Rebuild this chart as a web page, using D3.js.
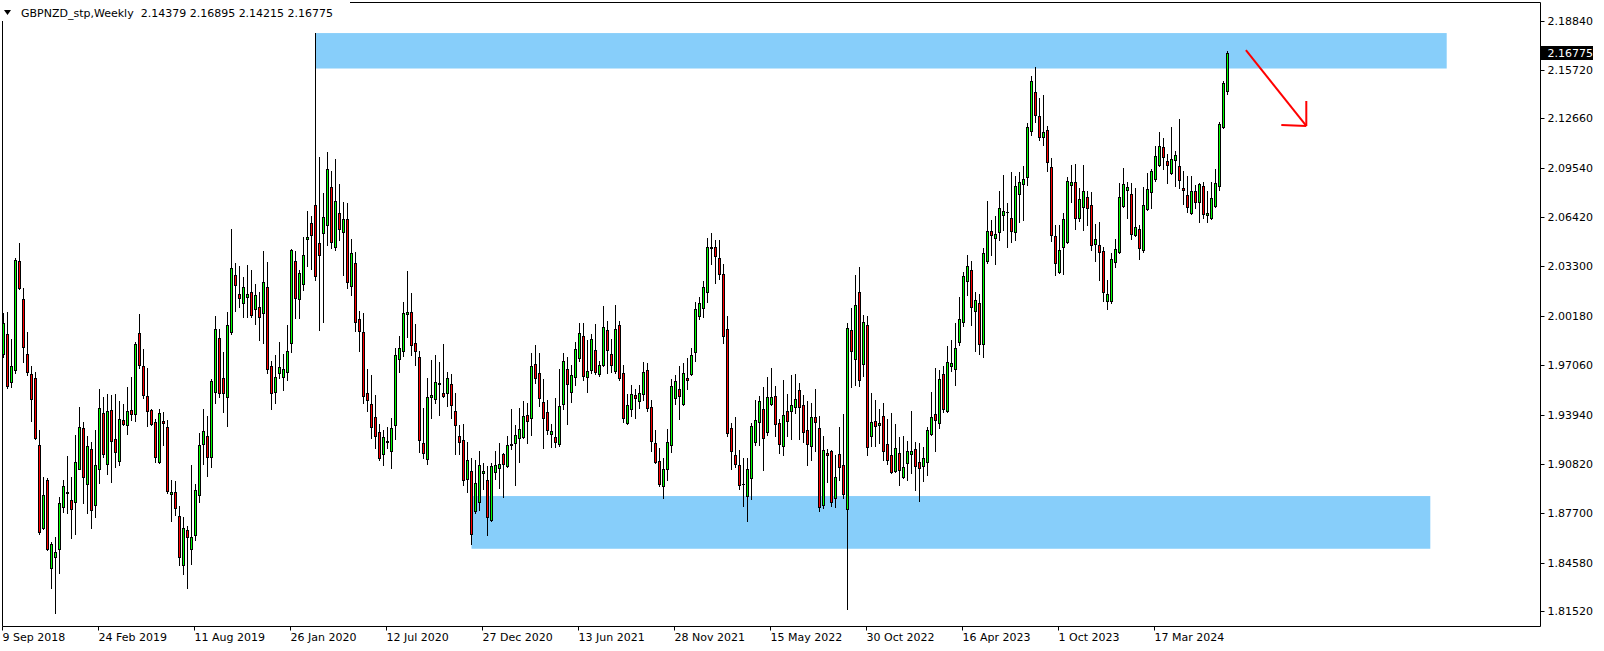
<!DOCTYPE html>
<html><head><meta charset="utf-8">
<script src="https://cdn.jsdelivr.net/npm/d3@7"></script>
<style>
body{margin:0;background:#fff;overflow:hidden;}
svg{display:block;}
text{font-family:"DejaVu Sans",sans-serif;font-size:11px;fill:#000;}
</style>
</head><body>
<svg id="chart" width="1604" height="651"></svg>
<script>
const symbolTitle = "GBPNZD_stp,Weekly";
const firstWeek = "2018-09-09";

const opens = [
1.9777,1.9903,1.9600,1.9676,2.0365,2.0124,1.9777,1.9650,1.9625,1.9202,
1.8677,1.8980,1.8424,1.8494,1.8544,1.8810,1.8898,1.8854,1.8841,1.9050,
1.9309,1.8955,1.9176,1.8822,1.9050,1.9404,1.9082,1.9423,1.9240,1.9101,
1.9360,1.9328,1.9423,1.9398,1.9909,1.9701,1.9511,1.9423,1.9347,1.9094,
1.9353,1.9315,1.8892,1.8905,1.8753,1.8443,1.8664,1.8544,1.8633,1.8886,
1.9208,1.9259,1.9126,1.9537,1.9878,1.9625,1.9505,1.9916,2.0276,2.0156,
2.0099,2.0137,2.0169,2.0061,2.0074,2.0036,2.0200,1.9701,1.9537,1.9657,
1.9631,1.9663,1.9846,2.0365,2.0124,2.0219,2.0504,2.0605,2.0718,2.0478,
2.0541,2.0592,2.0832,2.0453,2.0668,2.0548,2.0630,2.0207,2.0352,1.9998,
1.9916,1.9530,1.9461,1.9379,1.9284,1.9145,1.9221,1.9164,1.9328,1.9745,
1.9796,2.0030,2.0042,1.9846,1.9758,1.9214,1.9113,1.9505,1.9492,1.9587,
1.9530,1.9530,1.9587,1.9417,1.9259,1.9233,1.8987,1.9037,1.8785,1.8841,
1.9025,1.8980,1.8728,1.9031,1.9056,1.9145,1.9069,1.9202,1.9214,1.9246,
1.9252,1.9391,1.9372,1.9714,1.9657,1.9473,1.9410,1.9271,1.9252,1.9208,
1.9461,1.9682,1.9537,1.9631,1.9751,1.9891,1.9631,1.9676,1.9802,1.9650,
1.9707,1.9928,1.9777,1.9669,1.9960,1.9657,1.9341,1.9429,1.9518,1.9480,
1.9524,1.9676,1.9442,1.9214,1.9101,1.8943,1.9050,1.9202,1.9499,1.9556,
1.9461,1.9625,1.9650,1.9789,2.0017,2.0067,2.0169,2.0447,2.0453,2.0383,
2.0282,1.9935,1.9309,1.9138,1.9075,1.8958,1.8879,1.8993,1.9221,1.9347,
1.9429,1.9284,1.9461,1.9511,1.9341,1.9195,1.9417,1.9417,1.9442,1.9549,
1.9454,1.9296,1.9195,1.9379,1.9309,1.8822,1.9151,1.9164,1.8867,1.9145,
1.9075,1.8797,1.9928,1.9745,2.0169,1.9714,1.9960,1.9259,1.9353,1.9328,
1.9385,1.9208,1.9138,1.9037,1.9151,1.8999,1.9088,1.9145,1.9176,1.9094,
1.9069,1.9094,1.9271,1.9398,1.9341,1.9650,1.9417,1.9701,1.9682,1.9853,
1.9979,2.0238,2.0308,2.0049,2.0099,1.9840,2.0365,2.0554,2.0510,2.0548,
2.0655,2.0677,2.0636,2.0548,2.0788,2.0851,2.0895,2.1186,2.1433,2.1281,
2.1148,2.1192,2.0959,2.0523,2.0295,2.0453,2.0485,2.0845,2.0864,2.0636,
2.0706,2.0769,2.0718,2.0472,2.0466,2.0428,2.0112,2.0112,2.0358,2.0421,
2.0712,2.0813,2.0788,2.0529,2.0567,2.0434,2.0693,2.0801,2.0883,2.0971,
2.1085,2.0997,2.0921,2.1003,2.0965,2.0826,2.0782,2.0668,2.0807,2.0737,
2.0839,2.0655,2.0636,2.0712,2.0839,2.1211,2.14379
];

const highs = [
2.0036,2.0042,1.9872,2.0383,2.0478,2.0194,1.9916,1.9701,1.9663,1.9296,
1.8999,1.8993,1.8589,1.8620,1.8873,1.8980,1.9132,1.8999,1.9265,1.9442,
1.9347,1.9259,1.9221,1.9296,1.9556,1.9505,1.9524,1.9518,1.9524,1.9480,
1.9461,1.9568,1.9631,1.9853,2.0030,1.9808,1.9688,1.9429,1.9366,1.9429,
1.9410,1.9360,1.8980,1.8974,1.8816,1.8747,1.8690,1.9075,1.8955,1.9277,
1.9429,1.9385,1.9619,2.0017,1.9935,1.9789,2.0042,2.0567,2.0352,2.0333,
2.0263,2.0339,2.0308,2.0219,2.0169,2.0428,2.0358,1.9733,1.9770,1.9853,
1.9777,1.9960,2.0440,2.0428,2.0308,2.0516,2.0681,2.0649,2.1805,2.1022,
2.0794,2.1053,2.0933,2.1009,2.0851,2.0737,2.0731,2.0504,2.0421,2.0049,
2.0036,1.9682,1.9644,1.9518,1.9334,1.9296,1.9315,1.9372,1.9815,1.9891,
2.0105,2.0301,2.0162,1.9966,1.9796,1.9435,1.9625,1.9739,1.9770,1.9726,
1.9840,1.9663,1.9650,1.9530,1.9328,1.9334,1.9221,1.9120,1.9107,1.9164,
1.9088,1.9069,1.9088,1.9164,1.9214,1.9151,1.9259,1.9429,1.9328,1.9435,
1.9480,1.9467,1.9783,1.9834,1.9783,1.9619,1.9486,1.9334,1.9499,1.9682,
1.9783,1.9758,1.9707,1.9853,1.9973,1.9973,1.9865,1.9903,1.9966,1.9733,
2.0080,1.9985,1.9872,2.0086,1.9985,1.9707,1.9524,1.9581,1.9556,1.9581,
1.9726,1.9720,1.9486,1.9296,1.9183,1.9120,1.9303,1.9619,1.9644,1.9701,
1.9720,1.9751,1.9815,2.0105,2.0137,2.0238,2.0510,2.0541,2.0497,2.0497,
2.0346,2.0017,1.9341,1.9379,1.9170,1.9120,1.9120,1.9341,1.9486,1.9511,
1.9568,1.9631,1.9688,1.9575,1.9366,1.9612,1.9524,1.9644,1.9650,1.9593,
1.9518,1.9480,1.9467,1.9556,1.9385,1.9259,1.9176,1.9170,1.9138,1.9315,
1.9398,1.9973,2.0067,2.0276,2.0327,2.0023,2.0017,1.9530,1.9486,1.9429,
1.9467,1.9366,1.9404,1.9334,1.9252,1.9259,1.9227,1.9417,1.9221,1.9214,
1.9189,1.9315,1.9537,1.9688,1.9676,1.9701,1.9827,1.9865,1.9973,2.0137,
2.0295,2.0402,2.0365,2.0169,2.0156,2.0447,2.0744,2.0624,2.0649,2.0807,
2.0908,2.0731,2.0927,2.0902,2.0927,2.0965,2.1237,2.1534,2.1591,2.1395,
2.1414,2.1218,2.1015,2.0592,2.0592,2.0668,2.0895,2.0971,2.0978,2.0826,
2.0971,2.0807,2.0801,2.0598,2.0611,2.0453,2.0244,2.0415,2.0504,2.0857,
2.0952,2.0864,2.0857,2.0826,2.0592,2.0832,2.0921,2.0946,2.1091,2.1180,
2.1142,2.1041,2.1211,2.1060,2.1262,2.0933,2.0902,2.0902,2.0845,2.0857,
2.0864,2.0807,2.0864,2.0946,2.1243,2.1502,2.16895
];

const lows = [
1.9758,1.9562,1.9568,1.9657,2.0190,1.9726,1.9644,1.9353,1.9240,1.8639,
1.8673,1.8538,1.8298,1.8140,1.8393,1.8778,1.8772,1.8614,1.8639,1.9048,
1.8835,1.8772,1.8677,1.8747,1.8961,1.9126,1.9018,1.8968,1.9063,1.9075,
1.9330,1.9271,1.9360,1.9353,1.9688,1.9499,1.9322,1.9328,1.9094,1.9088,
1.9202,1.8898,1.8721,1.8759,1.8443,1.8386,1.8298,1.8449,1.8601,1.8841,
1.9082,1.9006,1.9063,1.9467,1.9505,1.9410,1.9322,1.9903,2.0049,2.0074,
2.0011,2.0011,2.0011,1.9966,1.9865,1.9846,1.9657,1.9429,1.9467,1.9625,
1.9549,1.9612,1.9789,2.0004,2.0004,2.0181,2.0333,2.0314,2.0244,1.9928,
1.9979,2.0466,2.0447,2.0434,2.0497,2.0276,2.0194,2.0150,1.9922,1.9796,
1.9467,1.9417,1.9246,1.9183,1.9107,1.9075,1.9183,1.9056,1.9240,1.9663,
1.9764,1.9884,1.9770,1.9707,1.9157,1.9120,1.9082,1.9372,1.9467,1.9391,
1.9505,1.9448,1.9372,1.9145,1.9145,1.8949,1.8905,1.8576,1.8772,1.8791,
1.8924,1.8633,1.8721,1.8987,1.8930,1.8873,1.9063,1.9176,1.8949,1.9094,
1.9246,1.9214,1.9265,1.9593,1.9448,1.9183,1.9271,1.9189,1.9189,1.9195,
1.9429,1.9334,1.9473,1.9581,1.9733,1.9612,1.9537,1.9657,1.9650,1.9638,
1.9701,1.9657,1.9663,1.9657,1.9612,1.9347,1.9334,1.9385,1.9372,1.9435,
1.9486,1.9417,1.9164,1.9088,1.8943,1.8867,1.8980,1.9157,1.9461,1.9366,
1.9455,1.9556,1.9644,1.9733,1.9998,2.0011,2.0105,2.0346,2.0225,2.0251,
1.9846,1.9259,1.9050,1.9063,1.8924,1.8816,1.8721,1.8860,1.9202,1.9202,
1.9044,1.9265,1.9455,1.9259,1.9151,1.9138,1.9259,1.9240,1.9404,1.9240,
1.9221,1.9075,1.9107,1.9164,1.8785,1.8803,1.8968,1.8816,1.8810,1.8980,
1.8867,1.8165,1.9568,1.9581,1.9575,1.9638,1.9138,1.9195,1.9195,1.9214,
1.9107,1.9082,1.9025,1.9031,1.8949,1.8993,1.8980,1.9025,1.8917,1.8848,
1.8974,1.9012,1.9265,1.9164,1.9309,1.9410,1.9410,1.9669,1.9581,1.9834,
1.9954,2.0150,1.9960,1.9796,1.9777,1.9758,2.0352,2.0402,2.0346,2.0497,
2.0560,2.0453,2.0485,2.0497,2.0611,2.0624,2.0845,2.1161,2.1243,2.1129,
2.1098,2.0933,2.0491,2.0276,2.0289,2.0282,2.0478,2.0737,2.0567,2.0617,
2.0560,2.0592,2.0434,2.0365,2.0244,2.0112,2.0061,2.0099,2.0327,2.0415,
2.0706,2.0636,2.0504,2.0523,2.0377,2.0421,2.0687,2.0699,2.0870,2.0965,
2.0946,2.0857,2.0914,2.0839,2.0826,2.0725,2.0674,2.0662,2.0699,2.0611,
2.0636,2.0611,2.0630,2.0706,2.0813,2.1205,2.14215
];

const closes = [
1.9973,1.9575,1.9701,2.0371,2.0194,1.9821,1.9663,1.9492,1.9246,1.8652,
1.8886,1.8544,1.8576,1.8525,1.8835,1.8943,1.8905,1.8797,1.9094,1.9315,
1.8999,1.9195,1.8791,1.9075,1.9435,1.9145,1.9417,1.9227,1.9157,1.9366,
1.9334,1.9417,1.9398,1.9840,1.9707,1.9518,1.9417,1.9334,1.9126,1.9404,
1.9341,1.8911,1.8905,1.8803,1.8494,1.8677,1.8620,1.8620,1.8917,1.9202,
1.9290,1.9126,1.9606,1.9935,1.9530,1.9530,1.9960,2.0320,2.0213,2.0131,
2.0200,2.0156,2.0023,2.0150,2.0011,2.0232,1.9682,1.9530,1.9631,1.9695,
1.9682,1.9796,2.0434,2.0131,2.0289,2.0402,2.0516,2.0529,2.0270,2.0402,
2.0643,2.0946,2.0485,2.0744,2.0567,2.0630,2.0232,2.0415,1.9979,1.9922,
1.9511,1.9486,1.9315,1.9259,1.9120,1.9252,1.9227,1.9309,1.9770,1.9815,
2.0036,2.0042,1.9834,1.9796,1.9233,1.9151,1.9505,1.9518,1.9600,1.9593,
1.9511,1.9625,1.9454,1.9328,1.9221,1.8980,1.9107,1.8639,1.8961,1.9075,
1.9037,1.8747,1.9069,1.9075,1.9082,1.9082,1.9202,1.9208,1.9265,1.9303,
1.9385,1.9353,1.9701,1.9625,1.9499,1.9372,1.9296,1.9290,1.9221,1.9448,
1.9733,1.9587,1.9644,1.9808,1.9909,1.9638,1.9669,1.9872,1.9663,1.9707,
1.9947,1.9802,1.9707,1.9935,1.9625,1.9372,1.9454,1.9524,1.9499,1.9530,
1.9663,1.9435,1.9227,1.9094,1.8955,1.9050,1.9221,1.9573,1.9606,1.9511,
1.9657,1.9612,1.9770,2.0061,2.0099,2.0200,2.0453,2.0453,2.0396,2.0282,
1.9891,1.9277,1.9164,1.9082,1.8949,1.8955,1.9050,1.9322,1.9360,1.9480,
1.9246,1.9505,1.9505,1.9334,1.9208,1.9391,1.9353,1.9454,1.9492,1.9442,
1.9284,1.9208,1.9379,1.9347,1.8810,1.9170,1.9138,1.8841,1.8999,1.9063,
1.8892,1.9941,1.9796,2.0086,1.9612,1.9979,1.9189,1.9347,1.9322,1.9341,
1.9164,1.9107,1.9031,1.9183,1.9044,1.9063,1.9164,1.9164,1.9069,1.9056,
1.9120,1.9296,1.9379,1.9360,1.9619,1.9429,1.9726,1.9720,1.9815,1.9998,
2.0270,2.0333,2.0074,2.0118,1.9840,2.0415,2.0554,2.0529,2.0535,2.0699,
2.0681,2.0674,2.0554,2.0839,2.0864,2.0883,2.1211,2.1502,2.1287,2.1148,
2.1180,2.0990,2.0529,2.0352,2.0434,2.0630,2.0870,2.0864,2.0636,2.0756,
2.0807,2.0699,2.0466,2.0504,2.0421,2.0169,2.0156,2.0377,2.0440,2.0769,
2.0851,2.0832,2.0535,2.0579,2.0447,2.0718,2.0820,2.0933,2.1028,2.1091,
2.1022,2.0971,2.1009,2.1034,2.0876,2.0813,2.0706,2.0807,2.0737,2.0851,
2.0662,2.0668,2.0763,2.0857,2.1230,2.1489,2.16775
];

const dateTickLabels = ["9 Sep 2018","24 Feb 2019","11 Aug 2019","26 Jan 2020","12 Jul 2020",
  "27 Dec 2020","13 Jun 2021","28 Nov 2021","15 May 2022","30 Oct 2022","16 Apr 2023","1 Oct 2023","17 Mar 2024"];
const priceTicks = [2.18840,2.15720,2.12660,2.09540,2.06420,2.03300,2.00180,1.97060,1.93940,1.90820,1.87700,1.84580,1.81520];

// horizontal zones (week index from first bar, price bounds)
const zoneFromWeek = [78, 117];
const zoneToWeek = [360.8, 356.7];
const zoneHigh = [2.1805, 1.8879];
const zoneLow = [2.1581, 1.8546];

// arrow annotation
const arrowFromWeek = 310.6, arrowFromPrice = 2.1697;
const arrowToWeek = 325.7, arrowToPrice = 2.1218;
const arrowHeadDirs = [182, 270]; // degrees, screen orientation

// ---------- drawing ----------
const svg = d3.select("#chart");
const frame = {left: 2.5, top: 2.5, right: 1540.5, bottom: 626.5};
const weekMs = 7 * 864e5;
const t0 = d3.utcParse("%Y-%m-%d")(firstWeek);
const weekDate = w => new Date(t0.getTime() + w * weekMs);
const N = opens.length;
const bars = d3.range(N).map(i => ({date: weekDate(i), o: opens[i], h: highs[i], l: lows[i], c: closes[i]}));

const x = d3.scaleUtc().domain([t0, weekDate(100)]).range([3.5, 403.5]);
const y = d3.scaleLinear().domain([1.8152, 2.2014]).range([611.1, 0]);

svg.append("defs").append("clipPath").attr("id","plotclip")
  .append("rect").attr("x", frame.left).attr("y", frame.top)
  .attr("width", frame.right - frame.left).attr("height", frame.bottom - frame.top);

const plot = svg.append("g").attr("clip-path","url(#plotclip)");

// zones
plot.selectAll("rect.zone").data(zoneFromWeek).join("rect").attr("class","zone")
  .attr("x", (d,i) => x(weekDate(zoneFromWeek[i])))
  .attr("width", (d,i) => x(weekDate(zoneToWeek[i])) - x(weekDate(zoneFromWeek[i])))
  .attr("y", (d,i) => y(zoneHigh[i]))
  .attr("height", (d,i) => y(zoneLow[i]) - y(zoneHigh[i]))
  .attr("fill", "#87CEFA");

// candles
const snap = v => Math.round(v) + 0.5;
const cg = plot.append("g");
bars.forEach(b => {
  const cx = Math.floor(x(b.date)) + 0.5;
  cg.append("line").attr("x1", cx).attr("x2", cx)
    .attr("y1", Math.round(y(b.h))).attr("y2", Math.round(y(b.l)) + 1)
    .attr("stroke", "#000").attr("stroke-width", 1);
  const yt = snap(y(Math.max(b.o, b.c)));
  const yb = snap(y(Math.min(b.o, b.c)));
  if (yb - yt < 1) {
    cg.append("line").attr("x1", cx - 1.5).attr("x2", cx + 1.5)
      .attr("y1", yt).attr("y2", yt).attr("stroke", "#000").attr("stroke-width", 1);
  } else {
    cg.append("rect").attr("x", cx - 1).attr("width", 2)
      .attr("y", yt).attr("height", yb - yt)
      .attr("fill", b.c >= b.o ? "#00ff00" : "#ff0000")
      .attr("stroke", "#000").attr("stroke-width", 1);
  }
});

// arrow
const ax1 = x(weekDate(arrowFromWeek)), ay1 = y(arrowFromPrice);
const ax2 = x(weekDate(arrowToWeek)), ay2 = y(arrowToPrice);
const headLen = 25;
const ag = plot.append("g").attr("stroke", "#ff0000").attr("stroke-width", 2).attr("fill","none");
ag.append("line").attr("x1", ax1).attr("y1", ay1).attr("x2", ax2).attr("y2", ay2);
arrowHeadDirs.forEach(deg => {
  const a = deg * Math.PI / 180;
  ag.append("line").attr("x1", ax2).attr("y1", ay2)
    .attr("x2", ax2 + headLen * Math.cos(a)).attr("y2", ay2 + headLen * Math.sin(a));
});

// frame
const fr = svg.append("g").attr("stroke", "#000").attr("stroke-width", 1);
fr.append("line").attr("x1", frame.left).attr("x2", frame.left).attr("y1", frame.top).attr("y2", frame.bottom);
fr.append("line").attr("x1", frame.left).attr("x2", frame.right).attr("y1", frame.top).attr("y2", frame.top);
fr.append("line").attr("x1", frame.right).attr("x2", frame.right).attr("y1", frame.top).attr("y2", frame.bottom);
fr.append("line").attr("x1", frame.left).attr("x2", frame.right).attr("y1", frame.bottom).attr("y2", frame.bottom);

// price axis
const yAxis = d3.axisRight(y).tickValues(priceTicks).tickFormat(d3.format(".5f")).tickSize(4).tickPadding(3).offset(0);
const yg = svg.append("g").attr("transform", `translate(${frame.right},0)`).call(yAxis);
yg.select(".domain").remove();
yg.selectAll(".tick line").attr("stroke","#000");
yg.selectAll(".tick").attr("transform", d => `translate(0,${Math.round(y(d)) + 0.5})`);
yg.selectAll("text").attr("font-family", "DejaVu Sans").attr("font-size", 11).attr("fill", "#000");
yg.attr("font-family", null).attr("font-size", null);

// last price label
const lastClose = closes[N - 1];
const lp = svg.append("g").attr("transform", `translate(${frame.right},${Math.round(y(lastClose))})`);
lp.append("rect").attr("x", 0.5).attr("y", -7).attr("width", 52).attr("height", 14).attr("fill", "#000");
lp.append("text").attr("x", 7).attr("y", 0).attr("dy", "0.35em").style("fill", "#fff").text(d3.format(".5f")(lastClose));

// time axis
const parseLbl = d3.utcParse("%d %b %Y");
const dateTicks = dateTickLabels.map(s => parseLbl(s));
const xAxis = d3.axisBottom(x).tickValues(dateTicks).tickFormat((d, i) => dateTickLabels[i]).tickSize(4).offset(0);
const xg = svg.append("g").attr("transform", `translate(0,${frame.bottom})`).call(xAxis);
xg.select(".domain").remove();
xg.selectAll(".tick").attr("transform", d => `translate(${Math.floor(x(d)) - 0.5},0)`);
xg.selectAll(".tick line").attr("stroke","#000");
xg.selectAll("text").attr("text-anchor", "start").attr("x", 0).attr("y", 7)
  .attr("font-family", "DejaVu Sans").attr("font-size", 11).attr("fill", "#000");
xg.attr("font-family", null).attr("font-size", null);

// title
const tg = svg.append("g");
tg.append("rect").attr("x", 0).attr("y", 0).attr("width", 350).attr("height", 21).attr("fill", "#fff");
tg.append("path").attr("d", d3.line()([[4,10],[11,10],[7.5,15]]) + "Z").attr("fill", "#000");
const last = bars[N - 1];
tg.append("text").attr("x", 21).attr("y", 13).attr("dy", "0.35em")
  .style("white-space", "pre").attr("xml:space", "preserve")
  .text(`${symbolTitle}  ${d3.format(".5f")(last.o)} ${d3.format(".5f")(last.h)} ${d3.format(".5f")(last.l)} ${d3.format(".5f")(last.c)}`);
</script>
</body></html>
